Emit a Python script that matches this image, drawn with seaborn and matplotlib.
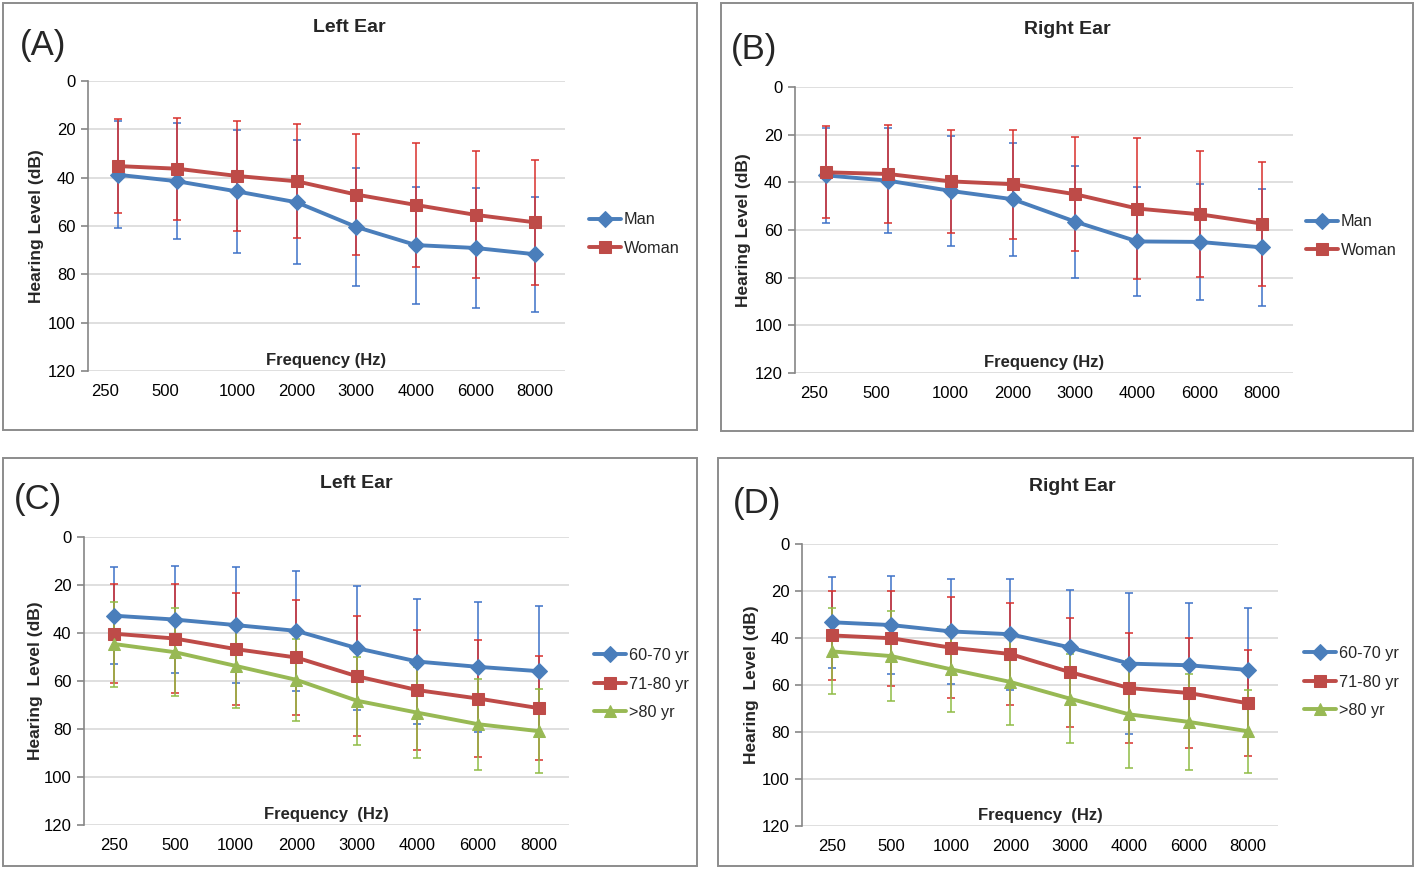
import numpy as np
import pandas as pd
import seaborn as sns
import matplotlib.pyplot as plt
import matplotlib.transforms as mtransforms
from matplotlib.patches import Rectangle

sns.set_style("white")
plt.rcParams['font.family'] = ['Liberation Sans', 'DejaVu Sans']

freqs = ['250', '500', '1000', '2000', '3000', '4000', '6000', '8000']

# (A) left ear by sex
a_man_mean = [38.8, 41.5, 45.7, 50.2, 60.4, 67.9, 69.1, 71.7]
a_man_sd = [22.2, 24.0, 25.6, 25.6, 24.5, 24.2, 25.0, 23.7]
a_woman_mean = [35.2, 36.3, 39.3, 41.5, 47.0, 51.3, 55.4, 58.5]
a_woman_sd = [19.6, 21.1, 22.6, 23.6, 25.0, 25.5, 26.3, 25.9]

# (B) right ear by sex
b_man_mean = [37.1, 39.3, 43.6, 47.1, 56.5, 64.8, 65.0, 67.3]
b_man_sd = [20.0, 21.9, 23.0, 23.8, 23.5, 23.0, 24.4, 24.5]
b_woman_mean = [35.8, 36.5, 39.6, 40.8, 45.0, 51.0, 53.4, 57.3]
b_woman_sd = [19.3, 20.5, 21.7, 22.8, 24.0, 29.4, 26.4, 26.0]

# (C) left ear by age
c_6070_mean = [32.8, 34.4, 36.7, 39.1, 46.3, 51.9, 54.1, 55.9]
c_6070_sd = [20.3, 22.2, 24.0, 25.0, 25.8, 26.2, 27.0, 27.0]
c_7180_mean = [40.3, 42.3, 46.7, 50.2, 58.0, 63.8, 67.3, 71.3]
c_7180_sd = [20.7, 22.6, 23.5, 24.1, 24.9, 25.0, 24.3, 21.6]
c_80_mean = [44.6, 48.0, 53.7, 59.5, 68.2, 73.2, 78.0, 80.9]
c_80_sd = [17.7, 18.4, 17.5, 17.2, 18.3, 19.0, 19.0, 17.5]

# (D) right ear by age
d_6070_mean = [33.3, 34.5, 37.2, 38.4, 44.0, 50.9, 51.6, 53.6]
d_6070_sd = [19.3, 20.8, 22.2, 23.7, 24.5, 30.0, 26.4, 26.4]
d_7180_mean = [38.9, 40.1, 44.1, 46.8, 54.5, 61.3, 63.4, 67.8]
d_7180_sd = [19.0, 20.3, 21.4, 21.8, 23.2, 23.4, 23.6, 22.5]
d_80_mean = [45.7, 47.7, 53.3, 58.7, 65.8, 72.5, 75.7, 79.7]
d_80_sd = [18.3, 19.0, 18.0, 18.5, 18.8, 23.0, 20.3, 17.6]

BLUE, RED, GREEN = '#4a7ebb', '#be4b48', '#98b954'
BLUE_ERR, RED_ERR, GREEN_ERR = '#3d72c8', '#d9302c', '#8fbc45'
W, H = 1418, 872

fig = plt.figure(figsize=(W / 100, H / 100), dpi=100)


def px_axes(x0, y0, x1, y1):
    return fig.add_axes([x0 / W, 1 - y1 / H, (x1 - x0) / W, (y1 - y0) / H])


def draw_panel(ax, series, letter, title, title_xy, letter_xy, box, ylab, xlab,
               leg_xy, ylab_px, shift_first=False):
    x = np.arange(len(freqs))
    for name, mean, sd, col, ecol, mk, ms in series:
        ax.errorbar(x, mean, yerr=sd, fmt='none', ecolor=ecol, elinewidth=1.1,
                    capsize=3.2, capthick=1.1, zorder=2, label='_nolegend_')
    for name, mean, sd, col, ecol, mk, ms in series:
        df = pd.DataFrame({'x': x, 'y': mean})
        sns.lineplot(data=df, x='x', y='y', ax=ax, color=col, linewidth=2.8,
                     marker=mk, markersize=ms, markeredgecolor=col,
                     markerfacecolor=col, label=name, zorder=3)

    ax.set_xlim(-0.5, len(freqs) - 0.5)
    ax.set_ylim(120, 0)
    ax.set_yticks(range(0, 121, 20))
    ax.set_xticks(x)
    ax.set_xticklabels(freqs)
    ax.grid(axis='y', color='#d9d9d9', linewidth=1.2)
    ax.grid(axis='x', visible=False)
    for s in ['top', 'right', 'bottom']:
        ax.spines[s].set_visible(False)
    ax.spines['left'].set_color('#868686')
    ax.spines['left'].set_linewidth(1.2)
    ax.tick_params(axis='y', length=5, width=1.2, color='#868686', pad=4,
                   labelsize=12, labelcolor='black', left=True)
    ax.tick_params(axis='x', length=0, pad=9, labelsize=12, labelcolor='black')
    ax.set_xlabel('')
    ax.set_ylabel(ylab, fontsize=12.5, fontweight='bold')
    ax_w = ax.get_position().width * W
    ax.yaxis.set_label_coords(ylab_px / ax_w, 0.5)
    ax.text(0.5, 0.012, xlab, transform=ax.transAxes, ha='center', va='bottom',
            fontsize=12, fontweight='bold')

    # the first two frequency labels sit a little left of their points
    if shift_first:
        off = mtransforms.ScaledTranslation(-0.125, 0, fig.dpi_scale_trans)
        for lbl in ax.get_xticklabels()[:2]:
            lbl.set_transform(lbl.get_transform() + off)

    ax.legend(loc='center left', bbox_to_anchor=(leg_xy[0] / W, 1 - leg_xy[1] / H),
              bbox_transform=fig.transFigure, frameon=False, fontsize=11.7,
              handlelength=2.0, handletextpad=0.15, labelspacing=0.82,
              numpoints=1, borderpad=0.4)

    fig.text(title_xy[0] / W, 1 - title_xy[1] / H, title, ha='center', va='center',
             fontsize=14, fontweight='bold')
    fig.text(letter_xy[0] / W, 1 - letter_xy[1] / H, letter, ha='left', va='center',
             fontsize=25)
    bx0, by0, bx1, by1 = box
    fig.patches.append(Rectangle((bx0 / W, 1 - by1 / H), (bx1 - bx0) / W, (by1 - by0) / H,
                                 transform=fig.transFigure, fill=False,
                                 edgecolor='#8c8c8c', linewidth=1.4))


ax_a = px_axes(88, 81, 565, 371)
draw_panel(ax_a,
           [('Man', a_man_mean, a_man_sd, BLUE, BLUE_ERR, 'D', 8.5),
            ('Woman', a_woman_mean, a_woman_sd, RED, RED_ERR, 's', 9)],
           '(A)', 'Left Ear', (349, 28), (20, 46), (3, 3, 697, 430),
           'Hearing Level (dB)', 'Frequency (Hz)', (574, 234), -44, shift_first=True)

ax_b = px_axes(795, 87, 1293, 373)
draw_panel(ax_b,
           [('Man', b_man_mean, b_man_sd, BLUE, BLUE_ERR, 'D', 8.5),
            ('Woman', b_woman_mean, b_woman_sd, RED, RED_ERR, 's', 9)],
           '(B)', 'Right Ear', (1067, 29), (731, 50), (721, 3, 1413, 431),
           'Hearing Level (dB)', 'Frequency (Hz)', (1291, 236), -44, shift_first=True)

ax_c = px_axes(84, 537, 569, 825)
draw_panel(ax_c,
           [('60-70 yr', c_6070_mean, c_6070_sd, BLUE, BLUE_ERR, 'D', 8.5),
            ('71-80 yr', c_7180_mean, c_7180_sd, RED, RED_ERR, 's', 9),
            ('>80 yr', c_80_mean, c_80_sd, GREEN, GREEN_ERR, '^', 9)],
           '(C)', 'Left Ear', (356, 483), (14, 500), (3, 458, 697, 866),
           'Hearing  Level (dB)', 'Frequency  (Hz)', (579, 684), -41)

ax_d = px_axes(802, 544, 1278, 826)
draw_panel(ax_d,
           [('60-70 yr', d_6070_mean, d_6070_sd, BLUE, BLUE_ERR, 'D', 8.5),
            ('71-80 yr', d_7180_mean, d_7180_sd, RED, RED_ERR, 's', 9),
            ('>80 yr', d_80_mean, d_80_sd, GREEN, GREEN_ERR, '^', 9)],
           '(D)', 'Right Ear', (1072, 486), (733, 503), (718, 458, 1413, 866),
           'Hearing  Level (dB)', 'Frequency  (Hz)', (1289, 682), -43)

fig.savefig('out.png', dpi=100)
